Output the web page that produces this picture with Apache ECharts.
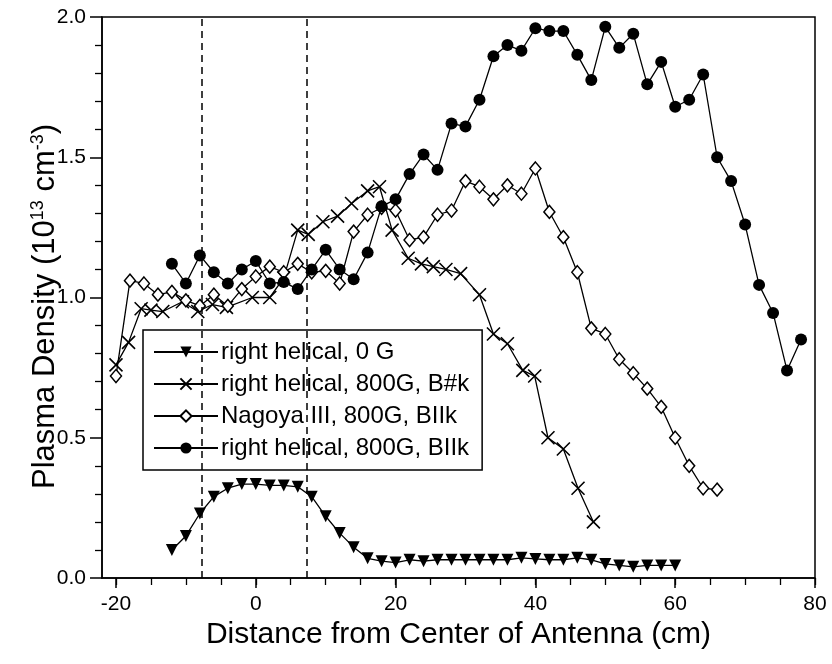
<!DOCTYPE html>
<html>
<head>
<meta charset="utf-8">
<script src="https://cdn.jsdelivr.net/npm/echarts@6/dist/echarts.min.js"></script>
<style>
html,body{margin:0;padding:0;background:#fff;}
#chart{width:832px;height:664px;}
</style>
</head>
<body>
<div id="chart"></div>
<script>
// ---- data ----
var seriesNames = ['right helical, 0 G', 'right helical, 800G, B#k', 'Nagoya III, 800G, BIIk', 'right helical, 800G, BIIk'];

var tri = [[-12,0.10],[-10,0.15],[-8,0.23],[-6,0.29],[-4,0.32],[-2,0.335],[0,0.335],[2,0.33],[4,0.33],[6,0.325],[8,0.29],[10,0.22],[12,0.16],[14,0.11],[16,0.07],[18,0.06],[20,0.055],[22,0.065],[24,0.06],[26,0.065],[28,0.065],[30,0.065],[32,0.065],[34,0.065],[36,0.065],[38,0.072],[40,0.068],[42,0.065],[44,0.065],[46,0.072],[48,0.065],[50,0.05],[52,0.045],[54,0.04],[56,0.045],[58,0.045],[60,0.045]];

var cross = [[-20,0.76],[-18.2,0.84],[-16.4,0.96],[-15,0.955],[-13.3,0.95],[-10.5,0.985],[-8.3,0.95],[-6.2,0.975],[-4.2,0.965],[-0.5,1.0],[2,1.0],[4,1.07],[6,1.24],[7.5,1.225],[9.6,1.27],[11.7,1.29],[13.7,1.335],[16,1.38],[17.7,1.395],[19.5,1.24],[21.8,1.14],[23.7,1.12],[25.4,1.11],[27.2,1.1],[29.3,1.085],[32,1.01],[34,0.87],[36,0.835],[38.2,0.74],[39.9,0.72],[41.8,0.5],[44,0.46],[46.1,0.32],[48.3,0.2]];

var diamond = [[-20,0.72],[-18,1.06],[-16,1.05],[-14,1.01],[-12,1.02],[-10,0.99],[-8,0.97],[-6,1.01],[-4,0.97],[-2,1.03],[0,1.075],[2,1.11],[4,1.09],[6,1.12],[8,1.09],[10,1.095],[12,1.05],[14,1.235],[16,1.295],[18,1.32],[20,1.31],[22,1.205],[24,1.215],[26,1.295],[28,1.31],[30,1.415],[32,1.395],[34,1.35],[36,1.40],[38,1.37],[40,1.46],[42,1.305],[44,1.215],[46,1.09],[48,0.89],[50,0.87],[52,0.78],[54,0.73],[56,0.675],[58,0.61],[60,0.50],[62,0.40],[64,0.32],[66,0.315]];

var circle = [[-12,1.12],[-10,1.05],[-8,1.15],[-6,1.09],[-4,1.05],[-2,1.10],[0,1.13],[2,1.05],[4,1.055],[6,1.03],[8,1.10],[10,1.17],[12,1.10],[14,1.065],[16,1.16],[18,1.325],[20,1.35],[22,1.44],[24,1.51],[26,1.455],[28,1.62],[30,1.61],[32,1.705],[34,1.86],[36,1.90],[38,1.88],[40,1.96],[42,1.95],[44,1.95],[46,1.865],[48,1.775],[50,1.965],[52,1.89],[54,1.94],[56,1.76],[58,1.84],[60,1.68],[62,1.705],[64,1.795],[66,1.50],[68,1.415],[70,1.26],[72,1.045],[74,0.945],[76,0.74],[78,0.85]];

var xMajorTicks = [-20, 0, 20, 40, 60, 80];
var xMinorTicks = [-20,-15,-10,-5,0,5,10,15,20,25,30,35,40,45,50,55,60,65,70,75,80];
var antennaEdges = [-7.7, 7.3];

// ---- chart ----
var font = '"Liberation Sans", Arial, Helvetica, sans-serif';
var chart = echarts.init(document.getElementById('chart'), null, {renderer: 'canvas'});

function lineSeries(name, data, symbol, size, itemStyle, extra) {
  var s = {
    name: name, type: 'line', data: data, xAxisIndex: 0, yAxisIndex: 0,
    symbol: symbol, symbolSize: size, showAllSymbol: true,
    lineStyle: {color: '#000', width: 1.3},
    itemStyle: itemStyle,
    emphasis: {disabled: true},
    animation: false, z: 3
  };
  if (extra) for (var k in extra) s[k] = extra[k];
  return s;
}

var option = {
  backgroundColor: '#fff',
  animation: false,
  grid: {left: 102, right: 17, top: 17, bottom: 86, show: true, borderColor: '#000', borderWidth: 1.5, backgroundColor: 'transparent'},
  xAxis: [{
    type: 'value', min: -22, max: 80,
    position: 'bottom',
    name: 'Distance from Center of Antenna (cm)',
    nameLocation: 'middle', nameGap: 42,
    nameTextStyle: {fontFamily: font, fontSize: 30, color: '#000'},
    axisLine: {show: true, onZero: false, lineStyle: {color: '#000', width: 1.5}},
    axisTick: {show: true, inside: false, length: 10, customValues: xMajorTicks, lineStyle: {color: '#000', width: 1.5}},
    axisLabel: {show: true, customValues: xMajorTicks, margin: 16, fontFamily: font, fontSize: 21, color: '#000'},
    splitLine: {show: false}
  }, {
    type: 'value', min: -22, max: 80, position: 'bottom', offset: 0,
    axisLine: {show: false},
    axisTick: {show: true, inside: false, length: 7, customValues: xMinorTicks, lineStyle: {color: '#000', width: 1.3}},
    axisLabel: {show: false},
    splitLine: {show: false}
  }],
  yAxis: {
    type: 'value', min: 0, max: 2, interval: 0.5,
    name: 'Plasma Density (10{sup|13} cm{sup|-3})',
    nameLocation: 'middle', nameGap: 41, nameRotate: 90, nameMoveOverlap: false,
    nameTextStyle: {fontFamily: font, fontSize: 31, color: '#000', padding: [0, 18, 0, 0],
      rich: {sup: {fontFamily: font, fontSize: 18, color: '#000', padding: [0,0,14,0]}}},
    axisLine: {show: true, onZero: false, lineStyle: {color: '#000', width: 1.5}},
    axisTick: {show: true, inside: false, length: 12, lineStyle: {color: '#000', width: 1.5}},
    minorTick: {show: true, splitNumber: 5, length: 7, lineStyle: {color: '#000', width: 1.3}},
    axisLabel: {margin: 16, fontFamily: font, fontSize: 21, color: '#000', formatter: function (v) { return v.toFixed(1); }},
    splitLine: {show: false}
  },
  legend: {
    show: true, orient: 'vertical', left: 143, top: 330,
    backgroundColor: '#fff', borderColor: '#000', borderWidth: 1.5,
    padding: [10, 13, 10, 10], itemGap: 8, itemWidth: 64, itemHeight: 14,
    textStyle: {fontFamily: font, fontSize: 24, color: '#000', padding: [0, 0, 0, -2]},
    data: seriesNames
  },
  series: [
    lineSeries(seriesNames[0], tri, 'triangle', 12, {color: '#000', borderColor: '#000', borderWidth: 0}, {symbolRotate: 180,
      markLine: {silent: true, symbol: 'none', label: {show: false},
        lineStyle: {color: '#000', width: 1.5, type: [7, 5]},
        data: antennaEdges.map(function (v) { return {xAxis: v}; })}}),
    lineSeries(seriesNames[1], cross, 'path://M0,0L10,10M10,0L0,10', 13, {color: '#000', borderColor: '#000', borderWidth: 1.6}),
    lineSeries(seriesNames[2], diamond, 'diamond', [11, 13], {color: '#fff', borderColor: '#000', borderWidth: 1.5}),
    lineSeries(seriesNames[3], circle, 'circle', 12, {color: '#000', borderColor: '#000', borderWidth: 0})
  ]
};
chart.setOption(option);
</script>
</body>
</html>
